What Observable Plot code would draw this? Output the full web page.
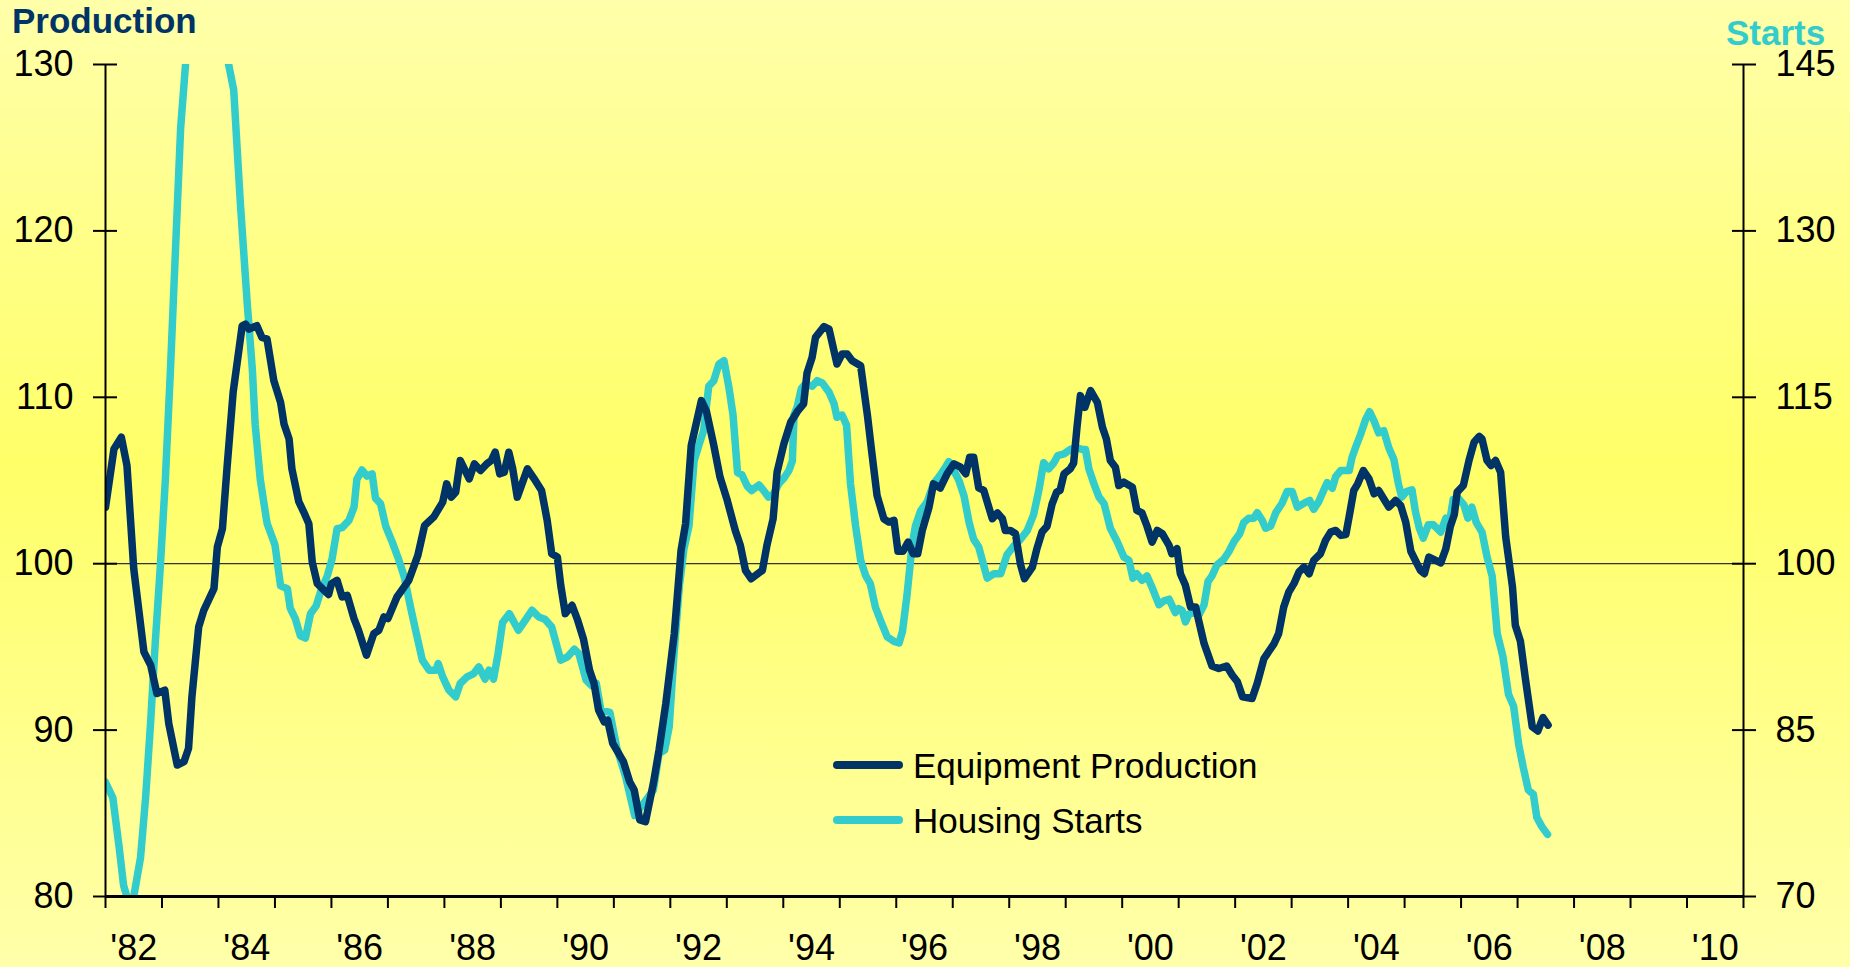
<!DOCTYPE html>
<html>
<head>
<meta charset="utf-8">
<script src="https://cdn.jsdelivr.net/npm/d3@7"></script>
<script src="https://cdn.jsdelivr.net/npm/@observablehq/plot@0.6"></script>
<style>
html, body { margin: 0; padding: 0; }
body {
  width: 1850px; height: 967px; overflow: hidden; position: relative;
  background: linear-gradient(to bottom, #FFFFAA 0%, #FFFF68 48%, #FFFFAA 100%);
  font-family: "Liberation Sans", Arial, sans-serif;
}
#chart { position: absolute; left: 0; top: 0; }
.title { position: absolute; font-weight: bold; font-size: 35px; line-height: 26px; white-space: nowrap; }
.leg { position: absolute; font-size: 35px; line-height: 35px; white-space: nowrap; color: #000; }
.sw { position: absolute; width: 70px; height: 8px; border-radius: 4px; }
</style>
</head>
<body>
<div class="title" style="left:12px;top:8px;color:#003366;">Production</div>
<div class="title" style="left:1726px;top:20px;color:#33CCCC;">Starts</div>
<div id="chart"></div>
<div class="sw" style="left:833px;top:761px;background:#003366;"></div>
<div class="leg" style="left:913px;top:748px;">Equipment Production</div>
<div class="sw" style="left:833px;top:816px;background:#33CCCC;"></div>
<div class="leg" style="left:913px;top:803px;">Housing Starts</div>
<script>
// Equipment Production (left axis)
const prodYears = [1982.00,1982.15,1982.28,1982.38,1982.50,1982.68,1982.80,1982.91,1983.05,1983.12,1983.27,1983.39,1983.47,1983.53,1983.65,1983.74,1983.92,1983.98,1984.07,1984.15,1984.26,1984.42,1984.48,1984.54,1984.68,1984.77,1984.86,1984.98,1985.10,1985.16,1985.25,1985.30,1985.42,1985.51,1985.60,1985.66,1985.75,1985.84,1985.95,1986.00,1986.10,1986.19,1986.28,1986.40,1986.48,1986.62,1986.75,1986.84,1986.93,1987.00,1987.16,1987.37,1987.53,1987.65,1987.81,1987.97,1988.04,1988.12,1988.20,1988.28,1988.44,1988.53,1988.64,1988.75,1988.83,1988.90,1988.98,1989.06,1989.14,1989.21,1989.29,1989.47,1989.59,1989.72,1989.82,1989.90,1990.00,1990.06,1990.14,1990.26,1990.36,1990.46,1990.57,1990.65,1990.73,1990.83,1990.89,1990.98,1991.17,1991.28,1991.36,1991.46,1991.56,1991.70,1991.80,1991.92,1992.07,1992.19,1992.27,1992.37,1992.55,1992.64,1992.77,1992.88,1993.00,1993.15,1993.24,1993.33,1993.43,1993.63,1993.71,1993.82,1993.89,1994.01,1994.13,1994.25,1994.36,1994.42,1994.51,1994.57,1994.72,1994.81,1994.95,1995.04,1995.13,1995.22,1995.37,1995.49,1995.57,1995.66,1995.78,1995.87,1995.96,1996.03,1996.12,1996.21,1996.30,1996.38,1996.46,1996.58,1996.66,1996.78,1996.90,1997.02,1997.14,1997.23,1997.30,1997.37,1997.46,1997.55,1997.70,1997.79,1997.88,1997.93,1998.02,1998.11,1998.20,1998.27,1998.41,1998.49,1998.58,1998.67,1998.76,1998.84,1998.90,1998.97,1999.08,1999.14,1999.20,1999.26,1999.34,1999.44,1999.56,1999.65,1999.72,1999.79,1999.88,1999.94,2000.03,2000.18,2000.26,2000.35,2000.44,2000.53,2000.62,2000.71,2000.83,2000.88,2000.97,2001.03,2001.12,2001.21,2001.30,2001.36,2001.45,2001.59,2001.71,2001.85,2001.95,2002.04,2002.13,2002.30,2002.39,2002.51,2002.69,2002.77,2002.86,2002.95,2003.04,2003.13,2003.22,2003.31,2003.39,2003.51,2003.60,2003.69,2003.78,2003.87,2003.96,2004.03,2004.10,2004.17,2004.27,2004.37,2004.46,2004.54,2004.63,2004.72,2004.84,2004.93,2005.02,2005.11,2005.19,2005.28,2005.35,2005.43,2005.55,2005.64,2005.73,2005.81,2005.88,2005.93,2006.04,2006.14,2006.23,2006.32,2006.37,2006.46,2006.53,2006.61,2006.70,2006.79,2006.91,2006.96,2007.05,2007.14,2007.26,2007.36,2007.45,2007.54];
const prodValues = [103.4,106.9,107.6,105.9,99.7,94.7,93.9,92.2,92.4,90.4,87.9,88.1,88.9,92.0,96.2,97.2,98.5,101.0,102.1,105.7,110.3,114.3,114.4,114.1,114.3,113.6,113.5,111.0,109.7,108.4,107.5,105.7,103.75,103.1,102.4,100.1,98.8,98.5,98.15,98.8,99.0,98.0,98.1,96.7,96.0,94.5,95.8,96.0,96.8,96.7,98.0,99.0,100.5,102.3,102.8,103.7,104.8,104.0,104.3,106.2,105.1,106.0,105.6,106.0,106.2,106.7,105.4,105.5,106.7,105.7,104.0,105.7,105.1,104.4,102.6,100.6,100.4,98.7,97.0,97.5,96.6,95.5,93.6,92.8,91.2,90.5,90.6,89.2,88.1,86.9,86.4,84.6,84.5,86.8,88.8,91.6,95.8,100.8,102.4,107.1,109.8,109.15,107.1,105.2,103.9,102.0,101.1,99.6,99.1,99.6,101.1,102.7,105.5,107.2,108.5,109.15,109.6,111.45,112.4,113.6,114.25,114.1,112.0,112.6,112.6,112.2,111.9,108.9,106.6,104.1,102.7,102.5,102.6,100.75,100.75,101.3,100.6,100.6,102.0,103.4,104.8,104.55,105.4,106.0,105.8,105.4,106.4,106.4,104.55,104.4,102.7,103.05,102.7,102.0,102.0,101.8,99.95,99.1,99.8,100.9,101.9,102.25,103.6,104.3,104.4,105.4,105.7,106.05,108.2,110.1,109.4,110.4,109.7,108.2,107.5,106.2,105.8,104.7,104.9,104.6,103.2,103.05,102.25,101.3,102.0,101.8,101.1,100.6,100.9,99.4,98.7,97.4,97.4,96.5,95.2,93.85,93.7,93.85,93.3,92.9,92.0,91.9,92.8,94.3,95.2,95.8,97.4,98.3,98.8,99.5,99.8,99.4,100.2,100.6,101.4,101.9,102.0,101.7,101.75,103.05,104.4,104.8,105.6,105.1,104.2,104.4,103.9,103.4,103.8,103.5,102.5,100.75,100.2,99.6,99.4,100.4,100.2,100.05,100.9,102.25,102.95,104.3,104.7,106.2,107.3,107.65,107.5,106.2,105.9,106.2,105.5,101.6,98.6,96.3,95.35,93.05,90.2,89.95,90.75,90.3];

// Housing Starts (right axis units)
const startsYears = [1982.00,1982.13,1982.24,1982.32,1982.40,1982.50,1982.62,1982.71,1982.80,1982.88,1982.97,1983.06,1983.15,1983.24,1983.33,1983.42,1983.55,1983.75,1983.95,1984.10,1984.18,1984.27,1984.39,1984.51,1984.60,1984.65,1984.74,1984.86,1985.00,1985.10,1985.22,1985.27,1985.36,1985.45,1985.54,1985.63,1985.73,1985.81,1985.93,1986.01,1986.10,1986.19,1986.31,1986.40,1986.45,1986.54,1986.63,1986.72,1986.78,1986.87,1986.96,1987.08,1987.19,1987.29,1987.40,1987.49,1987.61,1987.73,1987.85,1987.89,1987.97,1988.08,1988.20,1988.28,1988.40,1988.52,1988.61,1988.72,1988.79,1988.87,1988.95,1989.03,1989.15,1989.31,1989.43,1989.55,1989.67,1989.78,1989.90,1990.06,1990.18,1990.30,1990.38,1990.51,1990.61,1990.69,1990.77,1990.93,1991.05,1991.21,1991.37,1991.52,1991.70,1991.80,1991.90,1991.98,1992.07,1992.16,1992.24,1992.33,1992.42,1992.50,1992.59,1992.68,1992.77,1992.86,1992.95,1993.04,1993.11,1993.19,1993.27,1993.36,1993.44,1993.57,1993.65,1993.74,1993.83,1993.92,1994.01,1994.10,1994.16,1994.19,1994.25,1994.32,1994.39,1994.51,1994.60,1994.69,1994.81,1994.90,1994.95,1995.04,1995.12,1995.19,1995.28,1995.37,1995.46,1995.54,1995.63,1995.72,1995.84,1995.96,1996.05,1996.11,1996.19,1996.28,1996.34,1996.43,1996.55,1996.66,1996.78,1996.87,1996.93,1997.02,1997.11,1997.20,1997.29,1997.37,1997.46,1997.61,1997.73,1997.85,1997.96,1998.08,1998.20,1998.32,1998.43,1998.52,1998.61,1998.70,1998.79,1998.86,1998.97,1999.08,1999.19,1999.29,1999.35,1999.41,1999.50,1999.59,1999.68,1999.73,1999.79,1999.91,2000.03,2000.12,2000.19,2000.26,2000.35,2000.44,2000.53,2000.65,2000.74,2000.83,2000.94,2001.00,2001.06,2001.12,2001.18,2001.27,2001.36,2001.45,2001.52,2001.59,2001.68,2001.80,2001.89,2001.98,2002.08,2002.15,2002.24,2002.33,2002.39,2002.48,2002.54,2002.63,2002.72,2002.83,2002.92,2003.01,2003.10,2003.22,2003.32,2003.39,2003.48,2003.57,2003.63,2003.72,2003.78,2003.87,2004.02,2004.07,2004.13,2004.22,2004.31,2004.38,2004.46,2004.54,2004.63,2004.72,2004.81,2004.89,2004.95,2005.03,2005.13,2005.19,2005.26,2005.33,2005.42,2005.51,2005.64,2005.73,2005.80,2005.86,2005.96,2006.05,2006.12,2006.19,2006.27,2006.37,2006.46,2006.55,2006.64,2006.74,2006.84,2006.93,2007.02,2007.10,2007.19,2007.28,2007.34,2007.43,2007.53];
const startsValues = [80.3,78.9,74.5,71.0,69.6,70.0,73.5,78.9,85.8,92.8,99.7,107.6,117.5,128.4,139.25,145.2,152,155,152,148,145.0,142.7,132.3,123.4,117.5,112.55,107.6,103.65,101.7,98.0,97.75,96.0,95.05,93.5,93.3,95.5,96.2,97.5,98.95,100.4,103.15,103.25,103.9,105.1,107.6,108.45,107.9,108.1,105.9,105.4,103.4,101.9,100.4,98.8,96.1,94.0,91.3,90.4,90.4,91.0,89.8,88.6,88.0,89.2,89.8,90.1,90.7,89.6,90.4,89.6,91.9,94.7,95.5,94.0,94.9,95.8,95.2,95.0,94.3,91.3,91.6,92.3,91.9,89.5,89.0,89.2,86.8,86.6,83.45,80.75,77.3,78.35,79.6,82.9,83.2,85.3,92.2,98.0,101.3,103.4,109.25,110.6,112.0,116.0,116.5,118.0,118.3,115.8,113.4,108.2,108.0,107.0,106.6,107.1,106.6,106.0,106.3,107.2,107.7,108.4,109.25,113.4,114.2,115.8,116.2,116.0,116.5,116.3,115.45,114.4,113.2,113.4,112.5,107.2,103.4,100.3,98.9,98.2,96.1,94.9,93.4,93.0,92.85,93.9,97.15,101.65,103.4,104.75,105.6,107.2,108.0,108.7,109.2,108.4,107.5,106.1,103.7,102.2,101.5,98.7,99.1,99.1,100.8,101.6,102.2,103.0,104.4,106.5,109.1,108.55,109.1,109.75,109.9,110.3,110.45,110.3,110.3,108.55,107.2,106.0,105.4,104.4,103.2,102.0,100.6,100.3,98.7,99.1,98.5,98.9,97.85,96.3,96.65,96.8,95.6,95.95,95.8,94.75,95.45,95.6,95.4,96.3,98.4,98.9,99.9,100.4,101.1,102.0,102.7,103.7,104.1,104.1,104.6,103.9,103.2,103.4,104.6,105.45,106.5,106.5,105.1,105.45,105.7,104.9,105.6,106.65,107.3,106.8,107.85,108.4,108.4,109.6,110.45,111.65,113.0,113.7,112.85,111.8,112.0,110.45,109.4,107.2,106.0,106.5,106.65,104.75,103.2,102.3,103.5,103.5,102.85,104.1,103.9,105.8,105.85,105.3,104.1,105.1,103.7,102.85,100.6,98.9,93.7,91.65,88.2,87.15,83.7,81.65,79.6,79.2,77.15,76.3,75.6];

// Axes
const leftTicks = [80, 90, 100, 110, 120, 130];
const rightTicks = [70, 85, 100, 115, 130, 145];
const yearTicks = d3.range(1982, 2012);
const labelYears = [1982, 1984, 1986, 1988, 1990, 1992, 1994, 1996, 1998, 2000, 2002, 2004, 2006, 2008, 2010];

const leftDomain = [80, 130];
const rightDomain = [70, 145];
const toLeft = v => leftDomain[0] + (v - rightDomain[0]) * (leftDomain[1] - leftDomain[0]) / (rightDomain[1] - rightDomain[0]);
const toRight = v => rightDomain[0] + (v - leftDomain[0]) * (rightDomain[1] - rightDomain[0]) / (leftDomain[1] - leftDomain[0]);

const prod = prodYears.map((y, i) => ({year: y, value: prodValues[i]}));
const starts = startsYears.map((y, i) => ({year: y, value: startsValues[i]}));

const chart = Plot.plot({
  width: 1850,
  height: 967,
  marginLeft: 105,
  marginRight: 107,
  marginTop: 64,
  marginBottom: 71,
  style: {background: "transparent", fontFamily: "Liberation Sans, Arial, sans-serif", fontSize: "36px", color: "black", overflow: "visible"},
  x: {type: "linear", domain: [1982, 2011], label: null},
  y: {domain: leftDomain, label: null},
  marks: [
    Plot.ruleY([100], {stroke: "#333333", strokeWidth: 1.3}),
    Plot.line(starts, {x: "year", y: d => toLeft(d.value), stroke: "#33CCCC", strokeWidth: 7.5, strokeLinejoin: "round", strokeLinecap: "round", clip: true}),
    Plot.line(prod, {x: "year", y: "value", stroke: "#003366", strokeWidth: 7.5, strokeLinejoin: "round", strokeLinecap: "round", clip: true}),
    Plot.ruleX([1982], {stroke: "black", strokeWidth: 2}),
    Plot.ruleX([2011], {stroke: "black", strokeWidth: 2}),
    Plot.ruleY([80], {stroke: "black", strokeWidth: 3}),
    Plot.axisY(leftTicks, {anchor: "left", label: null, tickSize: 12, tickPadding: 20, strokeWidth: 2, fontSize: 36, tickFormat: d => String(d)}),
    Plot.axisY(leftTicks, {anchor: "left", label: null, tickSize: 12, dx: 12, strokeWidth: 2, tickFormat: () => ""}),
    Plot.axisY(rightTicks.map(toLeft), {anchor: "right", label: null, tickSize: 12, tickPadding: 20, strokeWidth: 2, fontSize: 36, tickFormat: d => String(Math.round(toRight(d)))}),
    Plot.axisY(rightTicks.map(toLeft), {anchor: "right", label: null, tickSize: 12, dx: -12, strokeWidth: 2, tickFormat: () => ""}),
    Plot.axisX(yearTicks, {anchor: "bottom", label: null, tickSize: 12, strokeWidth: 2, tickFormat: () => ""}),
    Plot.axisX(labelYears.map(y => y + 0.5), {anchor: "bottom", label: null, tickSize: 0, tickPadding: 38, fontSize: 36, tickFormat: d => "'" + String(Math.floor(d) % 100).padStart(2, "0")})
  ]
});
document.getElementById("chart").appendChild(chart);
</script>
</body>
</html>
